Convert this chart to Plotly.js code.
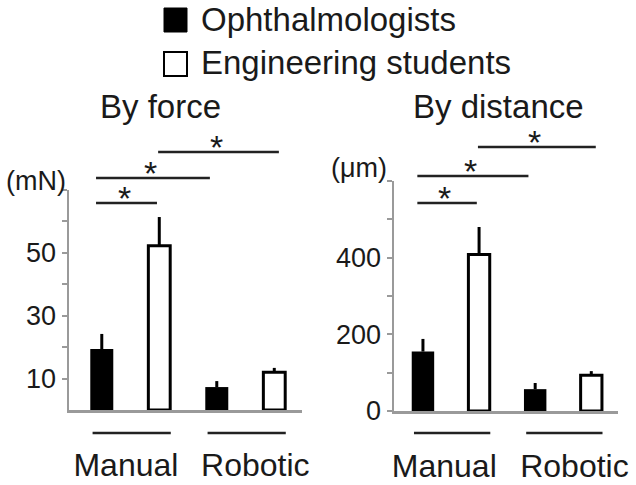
<!DOCTYPE html>
<html>
<head>
<meta charset="utf-8">
<script src="https://cdn.plot.ly/plotly-3.0.1.min.js"></script>
<style>html,body{margin:0;padding:0;background:#fff;}#chart{width:636px;height:485px;}</style>
</head>
<body>
<div id="chart"></div>
<script>
// ---- data ----
const groups = ['Manual', 'Robotic'];
const seriesNames = ['Ophthalmologists', 'Engineering students'];
const panelTitles = ['By force', 'By distance'];
const unitLabels = ['(mN)', '(μm)'];

const forceOphth = [19.4, 7.3];
const forceOphthErr = [4.8, 1.9];
const forceEng = [52.3, 12.0];
const forceEngErr = [9.1, 1.4];

const distOphth = [155, 57];
const distOphthErr = [33, 16];
const distEng = [408, 93];
const distEngErr = [72, 11];

const forceTicks = [10, 20, 30, 40, 50, 60, 70];
const forceTickText = ['10', '', '30', '', '50', '', ''];
const distTicks = [0, 100, 200, 300, 400, 500, 600];
const distTickText = ['0', '', '200', '', '400', '', ''];

// significance comparisons: [barIndexA, barIndexB] (bar order: M-O, M-E, R-O, R-E)
const comparisons = [[0, 1], [0, 2], [1, 3]];
const sigLabel = '*';

// ---- layout helpers ----
const W = 636, H = 485;
const FONT = 'Liberation Sans, Arial, Helvetica, sans-serif';
const px = v => v / W;
const py = v => 1 - v / H;
const xpos = groups.map((g, i) => i);
const OFF = 0.25;

function barTrace(y, err, xa, ya, filled, name) {
  const w = filled ? 0.2 : 0.19;
  return {
    type: 'bar', name: name, x: xpos, y: y, xaxis: xa, yaxis: ya,
    width: w, offset: (filled ? -OFF : OFF) - w / 2,
    marker: { color: filled ? '#000' : '#fff', line: { color: '#000', width: filled ? 0 : 3 } },
    error_y: { type: 'data', symmetric: false, array: err, arrayminus: err.map(() => 0),
               color: '#000', thickness: 3, width: 0 },
    showlegend: false, hoverinfo: 'none'
  };
}

const data = [
  barTrace(forceOphth, forceOphthErr, 'x', 'y', true, seriesNames[0]),
  barTrace(forceEng, forceEngErr, 'x', 'y', false, seriesNames[1]),
  barTrace(distOphth, distOphthErr, 'x2', 'y2', true, seriesNames[0]),
  barTrace(distEng, distEngErr, 'x2', 'y2', false, seriesNames[1])
];

const axisGrey = '#9a9a9a';
function xAxis(domain, range, labelShift) {
  return {
    domain: domain, range: range, type: 'linear',
    showline: true, linecolor: axisGrey, linewidth: 2.5,
    showgrid: false, zeroline: false, ticks: '',
    tickmode: 'array', tickvals: xpos.map((v, i) => v + labelShift[i]), ticktext: groups,
    tickfont: { family: FONT, size: 32, color: '#1a1a1a' },
    ticklabelstandoff: 25, fixedrange: true
  };
}
function yAxis(domain, range, tv, tt, anchor) {
  return {
    domain: domain, range: range, anchor: anchor,
    showline: true, linecolor: axisGrey, linewidth: 2.5,
    showgrid: false, zeroline: false,
    ticks: 'outside', ticklen: 5, tickwidth: 2, tickcolor: axisGrey,
    tickmode: 'array', tickvals: tv, ticktext: tt,
    tickfont: { family: FONT, size: 27, color: '#1a1a1a' },
    fixedrange: true
  };
}

// pixel placement of the two panels
const panels = [
  { xd: [px(69), px(302)], yd: [py(410), py(190)], xr: [-0.535, 1.491], xa: 'x',
    lines: [203, 178, 152], labelShift: [-0.04, 0.085], title: [160, 106], unit: [36, 181] },
  { xd: [px(394), px(618)], yd: [py(411), py(181)], xr: [-0.508, 1.488], xa: 'x2',
    lines: [203, 176, 147], labelShift: [-0.06, 0.10], title: [498.5, 106], unit: [358.5, 168] }
];

// bracket x extents (category units) for each comparison
const bracketX = [[-0.30, 0.23], [-0.30, 0.69], [0.24, 1.29]];

const shapes = [];
const annotations = [];
const txt = '#1a1a1a';
panels.forEach((p, k) => {
  // group underlines
  xpos.forEach(c => {
    shapes.push({ type: 'line', xref: p.xa, yref: 'paper', x0: c - 0.33, x1: c + 0.35,
      y0: py(433), y1: py(433), line: { color: '#222', width: 2.5 } });
  });
  // significance brackets
  comparisons.forEach((cmp, i) => {
    const [a, b] = bracketX[i];
    shapes.push({ type: 'line', xref: p.xa, yref: 'paper', x0: a, x1: b,
      y0: py(p.lines[i]), y1: py(p.lines[i]), line: { color: '#222', width: 2.5 } });
    annotations.push({ text: sigLabel, xref: p.xa, yref: 'paper', x: (a + b) / 2 - 0.02, y: py(p.lines[i] - 5),
      xanchor: 'center', yanchor: 'middle', showarrow: false,
      font: { family: FONT, size: 34, color: txt } });
  });
  annotations.push({ text: panelTitles[k], xref: 'paper', yref: 'paper', x: px(p.title[0]), y: py(p.title[1]),
    xanchor: 'center', yanchor: 'middle', showarrow: false, font: { family: FONT, size: 33, color: txt } });
  annotations.push({ text: unitLabels[k], xref: 'paper', yref: 'paper', x: px(p.unit[0]), y: py(p.unit[1]),
    xanchor: 'center', yanchor: 'middle', showarrow: false, font: { family: FONT, size: 27, color: txt } });
});

// legend (drawn manually so the swatches match the large text)
shapes.push({ type: 'rect', xref: 'paper', yref: 'paper', x0: px(164), x1: px(187), y0: py(32), y1: py(8),
  fillcolor: '#000', line: { color: '#000', width: 1 } });
shapes.push({ type: 'rect', xref: 'paper', yref: 'paper', x0: px(164), x1: px(187), y0: py(76), y1: py(52),
  fillcolor: '#fff', line: { color: '#000', width: 2 } });
annotations.push({ text: seriesNames[0], xref: 'paper', yref: 'paper', x: px(199), y: py(20),
  xanchor: 'left', yanchor: 'middle', showarrow: false, font: { family: FONT, size: 33, color: txt } });
annotations.push({ text: seriesNames[1], xref: 'paper', yref: 'paper', x: px(199), y: py(63),
  xanchor: 'left', yanchor: 'middle', showarrow: false, font: { family: FONT, size: 33, color: txt } });

const layout = {
  width: W, height: H, margin: { l: 0, r: 0, t: 0, b: 0 },
  paper_bgcolor: '#fff', plot_bgcolor: 'rgba(0,0,0,0)',
  barmode: 'overlay', showlegend: false,
  xaxis: xAxis(panels[0].xd, panels[0].xr, panels[0].labelShift),
  yaxis: yAxis(panels[0].yd, [0, 70], forceTicks, forceTickText, 'x'),
  xaxis2: Object.assign(xAxis(panels[1].xd, panels[1].xr, panels[1].labelShift), { anchor: 'y2' }),
  yaxis2: yAxis(panels[1].yd, [0, 600], distTicks, distTickText, 'x2'),
  shapes: shapes, annotations: annotations,
  font: { family: FONT, color: txt }
};
layout.xaxis.anchor = 'y';

Plotly.newPlot('chart', data, layout, { staticPlot: true, displayModeBar: false });
</script>
</body>
</html>
